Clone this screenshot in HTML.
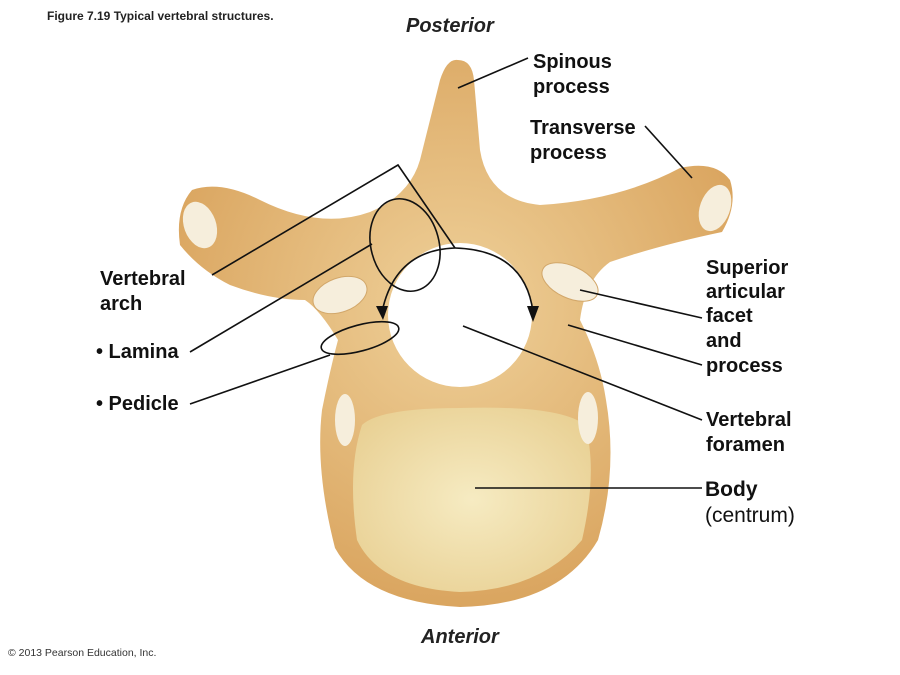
<!DOCTYPE html>
<html><head><style>
body{margin:0;background:#fff;}
svg{display:block;}
text{font-family:"Liberation Sans",sans-serif;}
.l{font-size:20px;font-weight:bold;fill:#111;}
</style></head><body>
<svg width="900" height="675" viewBox="0 0 900 675">
<defs>
<radialGradient id="bg" cx="50%" cy="45%" r="60%"><stop offset="0" stop-color="#efd19a"/><stop offset="1" stop-color="#d8a15a"/></radialGradient>
<radialGradient id="bd" cx="50%" cy="50%" r="60%"><stop offset="0" stop-color="#f6ebc2"/><stop offset="1" stop-color="#e9d195"/></radialGradient>
</defs>
<text x="47" y="20" font-size="12" font-weight="bold" fill="#222">Figure 7.19  Typical vertebral structures.</text>
<text x="406" y="32" font-size="20" font-weight="bold" font-style="italic" fill="#222">Posterior</text>
<text x="421" y="643" font-size="20" font-weight="bold" font-style="italic" fill="#222">Anterior</text>
<text x="8" y="656" font-size="10.5" fill="#333">© 2013 Pearson Education, Inc.</text>

<path d="M440,80 Q447,58 458,60 Q472,60 474,80 L480,150 Q488,200 540,205 Q620,200 680,168 Q715,160 730,180 Q738,205 722,232 Q660,245 610,262 Q585,280 580,320 Q600,360 606,400 Q618,470 598,540 Q560,605 460,607 Q365,602 335,548 Q315,470 322,410 Q330,370 338,340 Q320,310 305,300 Q270,300 230,285 Q200,270 180,245 Q175,210 192,190 Q220,180 260,200 Q320,230 370,212 Q410,195 420,160 Z" fill="url(#bg)"/>
<circle cx="460" cy="315" r="72" fill="#fff"/>
<path d="M362,425 Q380,408 460,408 Q560,405 585,425 Q598,470 582,540 Q540,590 460,592 Q380,588 357,540 Q347,470 362,425 Z" fill="url(#bd)"/>
<ellipse cx="340" cy="295" rx="28" ry="17" transform="rotate(-20 340 295)" fill="#f6eedc" stroke="#d2a76a"/>
<ellipse cx="570" cy="282" rx="30" ry="16" transform="rotate(25 570 282)" fill="#f6eedc" stroke="#d2a76a"/>
<ellipse cx="200" cy="225" rx="16" ry="24" transform="rotate(-20 200 225)" fill="#f6eedc"/>
<ellipse cx="715" cy="208" rx="15" ry="24" transform="rotate(20 715 208)" fill="#f6eedc"/>
<ellipse cx="345" cy="420" rx="10" ry="26" fill="#f6eedc"/>
<ellipse cx="588" cy="418" rx="10" ry="26" fill="#f6eedc"/>

<g stroke="#111" stroke-width="1.6" fill="none">
<line x1="458" y1="88" x2="528" y2="58"/>
<line x1="645" y1="126" x2="692" y2="178"/>
<polyline points="212,275 398,165 455,248"/>
<path d="M455,248 Q395,250 382,312"/>
<path d="M455,248 Q525,250 533,312"/>
<line x1="190" y1="352" x2="372" y2="244"/>
<ellipse cx="405" cy="245" rx="34" ry="47" transform="rotate(-15 405 245)"/>
<line x1="190" y1="404" x2="330" y2="355"/>
<ellipse cx="360" cy="338" rx="40" ry="13" transform="rotate(-15 360 338)"/>
<line x1="580" y1="290" x2="702" y2="318"/>
<line x1="568" y1="325" x2="702" y2="365"/>
<line x1="463" y1="326" x2="702" y2="420"/>
<line x1="475" y1="488" x2="702" y2="488"/>
</g>
<polygon points="376,306 388,306 383,320" fill="#111"/>
<polygon points="527,306 539,306 533,322" fill="#111"/>

<text class="l" x="533" y="68">Spinous</text>
<text class="l" x="533" y="93">process</text>
<text class="l" x="530" y="134">Transverse</text>
<text class="l" x="530" y="159">process</text>
<text class="l" x="100" y="285">Vertebral</text>
<text class="l" x="100" y="310">arch</text>
<text class="l" x="96" y="358">• Lamina</text>
<text class="l" x="96" y="410">• Pedicle</text>
<text class="l" x="706" y="274">Superior</text>
<text class="l" x="706" y="298">articular</text>
<text class="l" x="706" y="322">facet</text>
<text class="l" x="706" y="347">and</text>
<text class="l" x="706" y="372">process</text>
<text class="l" x="706" y="426">Vertebral</text>
<text class="l" x="706" y="451">foramen</text>
<text x="705" y="496" font-size="21" font-weight="bold" fill="#111">Body</text>
<text x="705" y="522" font-size="21" fill="#111">(centrum)</text>
</svg>
</body></html>
